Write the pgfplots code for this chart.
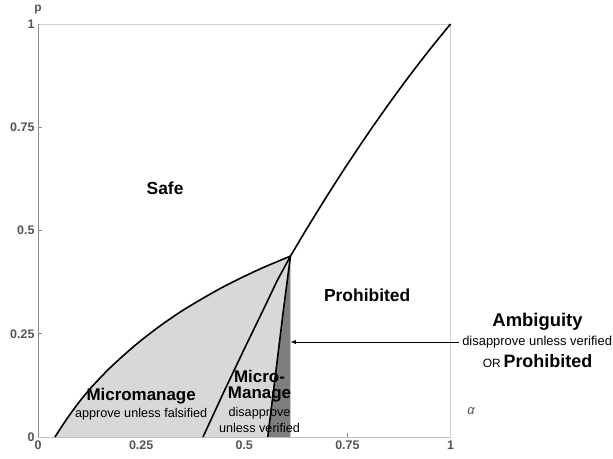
\documentclass[border=0pt]{standalone}
\usepackage{fontspec}
\setmainfont{Liberation Sans}
\usepackage{pgfplots}
\pgfplotsset{compat=1.18}
\definecolor{regionlight}{HTML}{D8D8D8}
\definecolor{regiondark}{HTML}{7E7E7E}
\definecolor{ticktext}{HTML}{555555}
\definecolor{frameline}{HTML}{D0D0D0}
\definecolor{axisline}{HTML}{8A8A8A}
\newcommand{\fs}[1]{\fontsize{#1}{#1}\selectfont}
\begin{document}
\begin{tikzpicture}
\begin{axis}[
  scale only axis,
  width=412.5bp, height=413bp,
  xmin=0, xmax=1, ymin=0, ymax=1,
  clip=false,
  axis line style={draw=frameline, line width=0.8bp},
  xtick={0,0.25,0.5,0.75,1},
  ytick={0,0.25,0.5,0.75,1},
  xticklabels={0,0.25,0.5,0.75,1},
  yticklabels={0,0.25,0.5,0.75,1},
  tick style={draw=axisline, line width=0.6bp},
  major tick length=4bp,
  tick align=inside,
  xtick pos=bottom, ytick pos=left,
  /pgf/number format/assume math mode=true,
  tick label style={font=\bfseries\fs{12.5}, text=ticktext},
  xticklabel style={yshift=0bp},
  yticklabel style={xshift=0bp},
]
% light region under the left boundary
\addplot[fill=regionlight, draw=none, smooth, tension=0.4] coordinates {
  (0.041,0) (0.07,0.044) (0.10,0.085) (0.13,0.121) (0.17,0.163)
  (0.21,0.200) (0.25,0.234) (0.30,0.272) (0.35,0.306) (0.40,0.336)
  (0.45,0.364) (0.50,0.389) (0.55,0.412) (0.612,0.438)} |- (axis cs:0.041,0) -- cycle;
% dark ambiguity wedge
\addplot[fill=regiondark, draw=none] coordinates {
  (0.557,0) (0.575,0.145) (0.594,0.30) (0.612,0.438) (0.612,0)} -- cycle;

% left axis drawn darker
\draw[axisline, line width=0.9bp] (axis cs:0,0) -- (axis cs:0,1);
\draw[frameline!80!gray, line width=0.9bp] (axis cs:0,0) -- (axis cs:1,0);

% boundaries
\addplot[black, line width=1.6bp, smooth, tension=0.4] coordinates {
  (0.041,0) (0.07,0.044) (0.10,0.085) (0.13,0.121) (0.17,0.163)
  (0.21,0.200) (0.25,0.234) (0.30,0.272) (0.35,0.306) (0.40,0.336)
  (0.45,0.364) (0.50,0.389) (0.55,0.412) (0.612,0.438)};
\addplot[black, line width=1.6bp, smooth, tension=0.4] coordinates {
  (0.612,0.438) (0.65,0.5017) (0.70,0.5826) (0.75,0.6603) (0.80,0.7347)
  (0.85,0.8059) (0.90,0.8739) (0.95,0.9386) (1.0,1.0)};
\addplot[black, line width=1.6bp] coordinates {
  (0.40,0) (0.45,0.108) (0.50,0.213) (0.55,0.316) (0.58,0.379) (0.612,0.438)};
\addplot[black, line width=1.6bp] coordinates {
  (0.557,0) (0.575,0.145) (0.594,0.30) (0.612,0.438)};

% axis names
\node[text=ticktext, font=\bfseries\fs{12}] at (axis cs:0,1.036) {p};
\node[text=ticktext, font=\itshape\fs{13}] at (axis cs:1.050,0.063) {α};

% region labels
\node[font=\bfseries\fs{17.5}] at (axis cs:0.308,0.603) {Safe};
\node[font=\bfseries\fs{17.5}] at (axis cs:0.798,0.344) {Prohibited};
\node[font=\bfseries\fs{17}] at (axis cs:0.250,0.100) {Micromanage};
\node[font=\fs{12.7}] at (axis cs:0.250,0.054) {approve unless falsified};
\node[font=\bfseries\fs{17}] at (axis cs:0.537,0.146) {Micro-};
\node[font=\bfseries\fs{17}] at (axis cs:0.537,0.103) {Manage};
\node[font=\fs{12.7}] at (axis cs:0.537,0.057) {disapprove};
\node[font=\fs{12.7}] at (axis cs:0.537,0.0225) {unless verified};

\node[font=\bfseries\fs{18.5}] at (axis cs:1.211,0.278) {Ambiguity};
\node[font=\fs{13}] (amb) at (axis cs:1.210,0.230) {disapprove unless verified};
\node at (axis cs:1.211,0.184) {{\fs{12}OR} {\bfseries\fs{18}Prohibited}};
\draw[-latex, line width=0.9bp] (amb.west) -- (axis cs:0.612,0.230);
\end{axis}
\pgfresetboundingbox
\path[use as bounding box] (-38bp,-22bp) rectangle (575bp,437bp);
\end{tikzpicture}
\end{document}
